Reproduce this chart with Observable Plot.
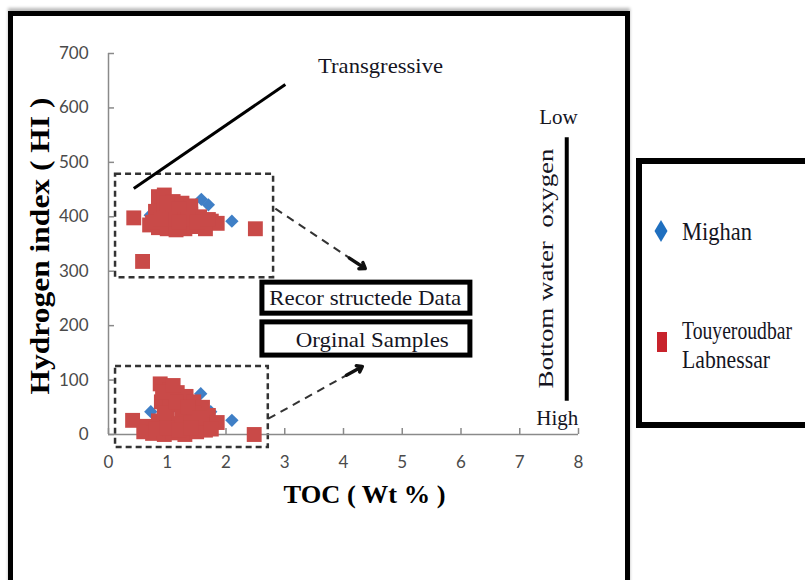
<!DOCTYPE html>
<html><head><meta charset="utf-8">
<script src="https://cdn.jsdelivr.net/npm/d3@7"></script>
<script src="https://cdn.jsdelivr.net/npm/@observablehq/plot@0.6"></script>
<style>
html,body{margin:0;padding:0;background:#fff;}
#wrap{position:relative;width:805px;height:580px;overflow:hidden;background:#fff;}
#chart{position:absolute;left:0;top:0;width:805px;}
#frame{position:absolute;left:8px;top:11px;width:612px;height:600px;border:5px solid #000;box-shadow:0 -3px 3px #bbb;}
#legend{position:absolute;left:636px;top:158px;width:169px;height:272px;overflow:hidden;}
</style></head><body>
<div id="wrap"><div id="chart"></div><div id="frame"></div><div id="legend"></div></div>
<script>
// ---- data ----
const xTicks = [0, 1, 2, 3, 4, 5, 6, 7, 8];
const yTicks = [0, 100, 200, 300, 400, 500, 600, 700];
const seriesNames = ["Mighan", "Touyeroudbar Labnessar"];

// Mighan (blue diamonds) - reconstructed data (upper cluster)
const mighanRecTOC = [0.71, 1.00, 1.20, 1.28, 1.58, 1.70, 2.10];
const mighanRecHI  = [403, 410, 395, 403, 432, 422, 392];
// Mighan - original samples (lower cluster)
const mighanOrigTOC = [0.72, 1.00, 1.20, 1.28, 1.57, 1.74, 2.10];
const mighanOrigHI  = [42, 30, 45, 40, 75, 42, 26];

// Touyeroudbar Labnessar (red squares) - reconstructed data
const touyRecTOC = [0.43, 0.58, 2.50, 0.85, 0.95, 1.10, 1.25, 1.40, 0.80, 0.95, 1.10, 1.25, 1.40, 1.55,
                    0.70, 0.85, 1.00, 1.15, 1.30, 1.45, 1.60, 1.75, 1.85, 0.75, 1.65,
                    1.00, 1.20, 1.35, 1.50, 1.05, 0.90, 1.70, 1.20];
const touyRecHI  = [398, 318, 378, 437, 440, 428, 425, 420, 410, 412, 405, 402, 405, 400,
                    385, 380, 378, 376, 378, 382, 386, 392, 388, 390, 378,
                    425, 415, 395, 390, 395, 395, 395, 390];
// Touyeroudbar Labnessar - original samples
const touyOrigTOC = [0.41, 2.48, 0.88, 1.05, 1.17, 1.32, 1.45, 1.60, 0.90, 1.05, 1.25, 1.45, 1.70,
                     0.65, 0.85, 1.00, 1.20, 1.40, 1.60, 1.85, 0.60, 0.75, 0.95, 1.10, 1.30, 1.50, 1.65,
                     0.95, 1.15, 1.35, 1.55, 0.80, 1.00, 1.20, 1.40, 1.75, 0.92, 1.10];
const touyOrigHI  = [26, 0, 93, 82, 77, 70, 60, 50, 60, 55, 45, 40, 35,
                     15, 25, 28, 20, 22, 18, 22, 5, 2, 0, 3, 0, 5, 8,
                     40, 60, 50, 30, 10, 12, 8, 12, 10, 78, 90];

const rows = (xs, ys) => xs.map((x, i) => ({toc: x, hi: ys[i]}));
const mighan = rows(mighanRecTOC, mighanRecHI).concat(rows(mighanOrigTOC, mighanOrigHI));
const touy = rows(touyRecTOC, touyRecHI).concat(rows(touyOrigTOC, touyOrigHI));

const serif = "Liberation Serif, Times New Roman, serif";
const ink = "#15151f";

const plot = Plot.plot({
  width: 805, height: 580,
  marginLeft: 108, marginRight: 227, marginTop: 53, marginBottom: 146,
  x: {domain: [0, 8]},
  y: {domain: [0, 700]},
  style: {background: "transparent", fontFamily: "Lato, sans-serif", fontSize: "17px", color: "#4a4a4a"},
  marks: [
    // dashed group boxes
    Plot.rect([{x1: 0.12, x2: 2.81, y1: 288, y2: 478}, {x1: 0.12, x2: 2.72, y1: -24, y2: 125}],
      {x1: "x1", x2: "x2", y1: "y1", y2: "y2", fill: "none", stroke: "#333", strokeWidth: 2.5, strokeDasharray: "6,4"}),
    // axes
    Plot.ruleX([0], {stroke: "#8a8a8a", strokeWidth: 1.5}),
    Plot.ruleY([0], {stroke: "#8a8a8a", strokeWidth: 1.5}),
    Plot.axisY({ticks: yTicks, tickSize: -6, tickFormat: () => "", label: null, stroke: "#8a8a8a", strokeWidth: 1.5}),
    Plot.axisX({ticks: xTicks, tickSize: -6, tickFormat: () => "", label: null, stroke: "#8a8a8a", strokeWidth: 1.5}),
    Plot.axisY({ticks: yTicks, tickSize: 0, tickPadding: 20, label: null, fontSize: 17}),
    Plot.axisX({ticks: xTicks, tickSize: 0, tickPadding: 21, label: null, fontSize: 17}),
    // points
    Plot.dot(mighan, {x: "toc", y: "hi", symbol: "diamond2", r: 6, fill: "#3f7fc6", stroke: "none"}),
    Plot.dot(touy, {x: "toc", y: "hi", symbol: "square", r: 8.4, fill: "#c94a48", stroke: "none"}),
    // transgressive line
    Plot.link([0], {x1: 0.43, y1: 452, x2: 3.01, y2: 643, stroke: "#000", strokeWidth: 3}),
    Plot.text(["Transgressive"], {x: 4.63, y: 676, text: d => d, fontFamily: serif, fontSize: 21, fill: ink}),
    // dashed arrows
    Plot.link([0], {x1: 2.84, y1: 415, x2: 4.37, y2: 305, stroke: "#333", strokeWidth: 2, strokeDasharray: "8,6"}),
    Plot.link([0], {x1: 2.72, y1: 29, x2: 4.32, y2: 125, stroke: "#333", strokeWidth: 2, strokeDasharray: "8,6"}),
    Plot.arrow([0], {x1: 4.10, y1: 324, x2: 4.37, y2: 305, stroke: "#111", strokeWidth: 3.5, headLength: 14, headAngle: 70}),
    Plot.arrow([0], {x1: 4.05, y1: 109, x2: 4.32, y2: 125, stroke: "#111", strokeWidth: 3.5, headLength: 14, headAngle: 70}),
    // text boxes
    Plot.rect([{x1: 2.62, x2: 6.16, y1: 222, y2: 279}, {x1: 2.62, x2: 6.16, y1: 145, y2: 206}],
      {x1: "x1", x2: "x2", y1: "y1", y2: "y2", fill: "#fff", stroke: "#000", strokeWidth: 5}),
    Plot.text(["Recor structede Data"], {x: 4.37, y: 250, text: d => d, fontFamily: serif, fontSize: 21, fill: ink}),
    Plot.text(["Orginal Samples"], {x: 4.49, y: 173, text: d => d, fontFamily: serif, fontSize: 21, fill: ink}),
    // bottom water oxygen scale
    Plot.link([0], {x1: 7.8, y1: 62, x2: 7.8, y2: 546, stroke: "#000", strokeWidth: 4}),
    Plot.text(["Low"], {x: 7.66, y: 582, text: d => d, fontFamily: serif, fontSize: 21, fill: ink}),
    Plot.text(["High"], {x: 7.64, y: 29, text: d => d, fontFamily: serif, fontSize: 21, fill: ink}),
    Plot.text(["Bottom water  oxygen"], {x: 7.44, y: 305, text: d => d, rotate: -90, fontFamily: serif, fontSize: 22, fill: ink}),
    // axis titles
    Plot.text(["Hydrogen index ( HI )"], {frameAnchor: "left", textAnchor: "middle", dx: -68, dy: 2, rotate: -90, text: d => d, fontFamily: serif, fontSize: 27, fontWeight: "bold", fill: "#000"}),
    Plot.text(["TOC ( Wt % )"], {frameAnchor: "bottom", textAnchor: "middle", dx: 21, dy: 68, text: d => d, fontFamily: serif, fontSize: 26, fontWeight: "bold", fill: "#000"})
  ]
});

const fit = {"Transgressive": 125, "Recor structede Data": 192, "Orginal Samples": 153,
             "Bottom water  oxygen": 240, "Hydrogen index ( HI )": 297, "TOC ( Wt % )": 162};
d3.select(plot).selectAll("text").each(function() {
  const t = this.textContent;
  if (fit[t]) d3.select(this).attr("textLength", fit[t]).attr("lengthAdjust", "spacingAndGlyphs").style("white-space", "pre");
});
document.getElementById("chart").appendChild(plot);

// ---- legend ----
const lg = d3.create("svg").attr("width", 169).attr("height", 272);
lg.append("rect").attr("x", 3).attr("y", 3).attr("width", 200).attr("height", 264)
  .attr("fill", "#fff").attr("stroke", "#000").attr("stroke-width", 6);
lg.append("path").attr("d", "M25,62L31.5,73L25,84L18.5,73Z").attr("fill", "#1f6fbf");
lg.append("rect").attr("x", 21).attr("y", 174).attr("width", 10).attr("height", 20).attr("fill", "#c8232c");
const legendLines = [[seriesNames[0], 82, 70], ["Touyeroudbar", 181, 110], ["Labnessar", 210, 88]];
legendLines.forEach(([t, y, w]) => {
  lg.append("text").attr("x", 0).attr("y", 0).text(t)
    .attr("transform", `translate(46,${y}) scale(1,1.3)`)
    .attr("font-family", serif).attr("font-size", 20).attr("fill", ink)
    .attr("textLength", w).attr("lengthAdjust", "spacingAndGlyphs");
});
document.getElementById("legend").appendChild(lg.node());
</script>
</body></html>
